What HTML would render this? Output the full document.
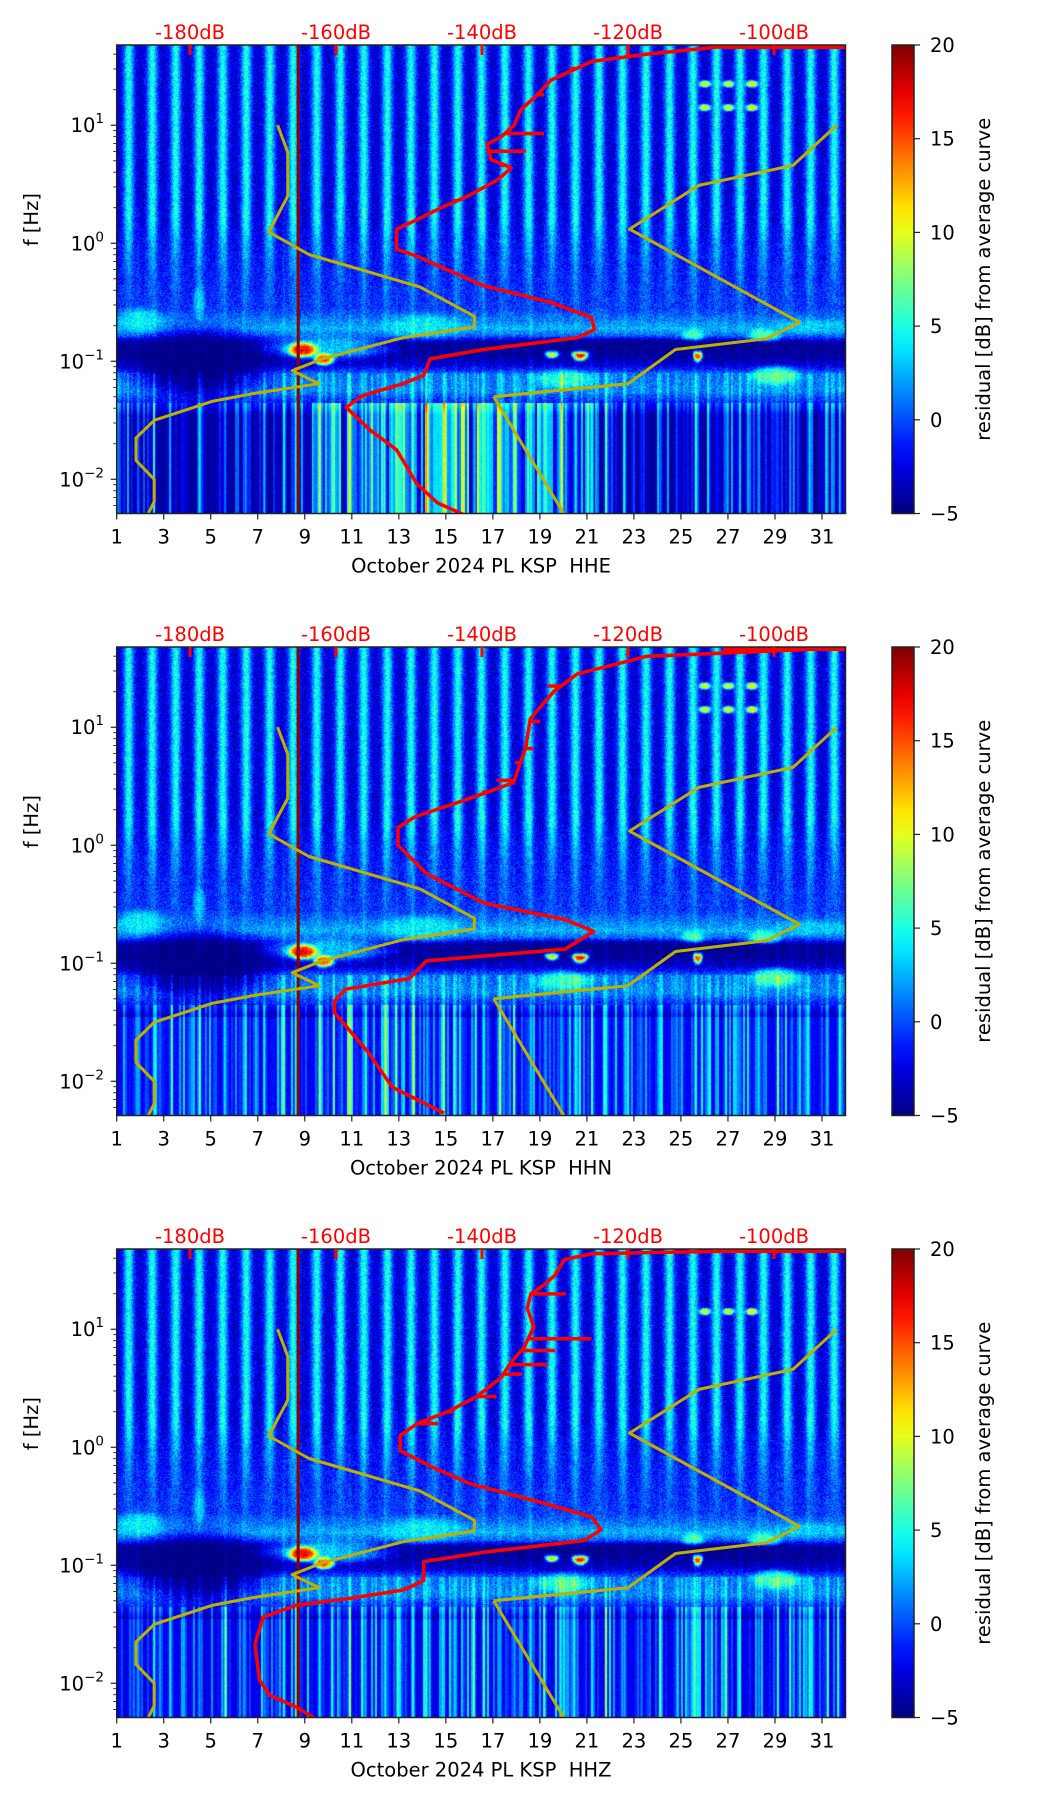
<!DOCTYPE html>
<html><head><meta charset="utf-8">
<style>
html,body{margin:0;padding:0;background:#fff;}
#wrap{position:relative;width:1052px;height:1806px;overflow:hidden;font-family:"DejaVu Sans","Liberation Sans",sans-serif;}
canvas{position:absolute;}
svg{position:absolute;left:0;top:0;}
</style></head>
<body>
<div id="wrap">
<svg id="ov" width="1052" height="1806"></svg>
</div>
<script>
// ---------- data ----------
const panelNames = ["HHE","HHN","HHZ"];
const dayTicks = [1,3,5,7,9,11,13,15,17,19,21,23,25,27,29,31];
const dbTicks = [-180,-160,-140,-120,-100];
const cbTicks = [20,15,10,5,0,-5];
const yDecades = [1,0,-1,-2];
const yDecadeLabels = ["1","0","\u22121","\u22122"];
// NLNM (low noise model), dB vs log10 f
const nlnmDb = [-168,-166.6,-166.6,-169.2,-163.7,-148.5,-141,-141.1,-150.8,-161.9,-166,-162.3,-171,-177,-184.9,-187.4,-187.4,-184.9,-184.9,-185.8];
const nlnmLf = [1,0.77,0.40,0.095,-0.095,-0.37,-0.62,-0.71,-0.80,-0.98,-1.08,-1.19,-1.27,-1.34,-1.5,-1.65,-1.84,-2.0,-2.19,-2.3];
// NHNM (high noise model)
const nhnmDb = [-91.4,-97.4,-110.3,-119.8,-96.5,-101.1,-113.5,-120,-138.4,-128.7];
const nhnmLf = [1,0.66,0.49,0.12,-0.67,-0.81,-0.90,-1.19,-1.30,-2.3];
// average PSD curves per channel
const psdHHEdb = [-90,-106.7,-117.7,-125,-127.8,-130.6,-132.4,-134.7,-135.6,-137.4,-139.3,-138.8,-136,-137.8,-141.6,-145.3,-148.9,-151.7,-151.7,-148.9,-145.3,-139.8,-130.6,-125,-124.6,-126.9,-139.8,-147.1,-148,-150.8,-156.3,-158.6,-155.4,-151.7,-148.9,-146.1,-142.5];
const psdHHElf = [1.68,1.67,1.60,1.54,1.46,1.38,1.26,1.13,1.0,0.9,0.84,0.71,0.64,0.54,0.41,0.31,0.2,0.12,-0.05,-0.11,-0.21,-0.36,-0.5,-0.63,-0.73,-0.8,-0.9,-0.98,-1.12,-1.19,-1.29,-1.39,-1.58,-1.75,-2.04,-2.2,-2.3];
const psdHHNdb = [-90,-95.4,-117.5,-127,-130.2,-133.4,-134,-135.7,-139.7,-144.4,-149.2,-151.5,-151.5,-147.6,-139.7,-128.6,-124.7,-128.6,-147.6,-150,-158.7,-160.2,-160.2,-155.5,-152.3,-145.2];
const psdHHNlf = [1.68,1.66,1.6,1.45,1.3,1.07,0.83,0.53,0.44,0.34,0.24,0.15,0,-0.24,-0.49,-0.63,-0.73,-0.88,-0.98,-1.13,-1.22,-1.32,-1.42,-1.76,-2.05,-2.27];
const psdHHZdb = [-90,-125,-128.7,-130,-131.4,-133.3,-133.8,-132.9,-134.2,-136,-137.4,-140.7,-144.4,-148.9,-151.2,-151.2,-147.1,-141.6,-132.4,-125,-123.7,-126,-139.8,-148,-148,-150.8,-158.1,-165.5,-170,-171.1,-170.5,-169.1,-165.5,-162.8];
const psdHHZlf = [1.68,1.64,1.59,1.46,1.38,1.3,1.18,1.02,0.85,0.72,0.59,0.43,0.31,0.2,0.1,-0.03,-0.16,-0.31,-0.46,-0.59,-0.7,-0.79,-0.89,-0.97,-1.13,-1.21,-1.28,-1.34,-1.44,-1.67,-1.97,-2.1,-2.2,-2.3];
// spikes (jagged excursions) of PSD curves
const spikeLf = [[1.48,1.26,0.93,0.78,0.66,0.47,0.36],[1.35,1.05,0.82,0.70,0.55,0.45],[1.30,0.92,0.82,0.70,0.62,0.43,0.30,0.2]];
const spikeDb = [[-128,-131.5,-131.5,-134,-137.5,-140,-144],[-131,-132,-133,-135.5,-138,-140],[-128.5,-125,-130,-131,-134.5,-138,-144,-146]];
// spectrogram structure: frequency band profile (log10 f) and values [dB residual]
const bandLf = [1.7,0.2,0.0,-0.3,-0.55,-0.65,-0.72,-0.78,-0.84,-0.95,-1.03,-1.1,-1.25,-1.32,-1.45,-2.3];
const bandBase = [-3,-3,-2.2,-1.5,-0.8,1,2.5,0.5,-4.2,-4.5,-3,0.5,1,-1,-4.2,-4.2];
const bandStripe = [8,8,5,2.5,1,0.5,0,0,0,0,0,0,0,0,0,0];
const bottomBase = [-4.3,-2.2,-2.6];
const streakDays = [1.9,2.6,3.3,4.5,5.6,6.4,7.3,8.1,8.6,9.6,10.2,10.9,11.5,12.4,12.9,13.6,14.2,14.9,15.4,16.2,16.6,17.3,17.9,18.6,19.2,19.9,20.5,21.2,21.8,22.6,23.3,24.1,24.8,25.6,26.2,26.9,27.5,28.3,29.1,29.7,30.4,31.2,31.7];
const streakVal = [6,4,3,5,7,6,4,8,5,6,4,7,5,8,6,9,6,5,7,4,9,6,5,7,4,6,5,4,6,5,4,6,5,7,4,5,4,6,5,4,6,5,4];
// panel-1 bottom: brighter streak region days 9.5 - 21
const boostStart = 9.3, boostEnd = 21.3, boostGain = [6,0,0];
// patches: day, log f, radius days, radius logf, value, panel mask
const patchDay = [4.5,10,2,14,25.5,28.5,29,20,8.9,9.8,20.7,19.5,25.7,4.5,26,27,28,26,27,28,22.5,30.5];
const patchLf = [-1.02,-0.88,-0.65,-0.7,-0.78,-0.78,-1.12,-1.15,-0.9,-0.98,-0.92,-0.92,-0.93,-0.5,1.35,1.35,1.35,1.15,1.15,1.15,-0.87,-0.7];
const patchRd = [2.9,2.6,1,1.6,0.5,0.7,1,1.2,0.6,0.4,0.35,0.3,0.2,0.25,0.25,0.25,0.25,0.25,0.25,0.25,9,1.5];
const patchRl = [0.3,0.1,0.1,0.1,0.06,0.06,0.08,0.08,0.06,0.05,0.07,0.05,0.07,0.15,0.03,0.03,0.03,0.03,0.03,0.03,0.06,0.06];
const patchVal = [-5.5,3,4,4,6,6,6,5,17,15,19,14,16,3,10,10,11,10,10,11,-5,3];
const patchMask = [7,7,7,7,7,7,7,7,7,7,7,7,7,7,3,3,3,7,7,7,7,7];
const verticalDay = 8.72;

// ---------- geometry ----------
const PL = 116.7, PR = 845.5, PH = 468.5;
const tops = [45, 647, 1249];
const LFTOP = 1.68, LFBOT = -2.29;
const CBL = 892, CBR = 914;
function xDay(d){ return PL + (d-1)*(PR-PL)/31; }
function yLf(lf, T){ return T + (LFTOP-lf)/(LFTOP-LFBOT)*PH; }
function xDb(db){ return 190 + (db+180)*7.3; }
function yCb(v, T){ return T + (20-v)/25*PH; }

function jet(t){
  t = Math.max(0,Math.min(1,t));
  const c = x=>Math.max(0,Math.min(1,x));
  let r=c(1.5-Math.abs(4*t-3)), g=c(1.5-Math.abs(4*t-2)), b=c(1.5-Math.abs(4*t-1));
  return [r*255|0,g*255|0,b*255|0];
}
function interp(xs, ys, x){
  if (x>=xs[0]) return ys[0];
  for (let i=1;i<xs.length;i++){
    if (x>=xs[i]){ const f=(x-xs[i])/(xs[i-1]-xs[i]); return ys[i]+(ys[i-1]-ys[i])*f; }
  }
  return ys[ys.length-1];
}
function hash(a,b){ const s=Math.sin(a*12.9898+b*78.233)*43758.5453; return s-Math.floor(s); }

const NS = "http://www.w3.org/2000/svg";
const svg = document.getElementById('ov');
function el(tag, attrs, parent){
  const e = document.createElementNS(NS, tag);
  for (const k in attrs) e.setAttribute(k, attrs[k]);
  (parent||svg).appendChild(e); return e;
}
const wrap = document.getElementById('wrap');

const psdDb = [psdHHEdb, psdHHNdb, psdHHZdb];
const psdLf = [psdHHElf, psdHHNlf, psdHHZlf];

tops.forEach((T, p) => {
  const W = Math.round(PR-PL), H = Math.round(PH);
  const cv = document.createElement('canvas');
  
  
  cv.width = W; cv.height = H;
  cv.style.left = PL+'px'; cv.style.top = T+'px';
  wrap.insertBefore(cv, svg);
  const ctx = cv.getContext('2d');
  const img = ctx.createImageData(W,H);
  const rowBase=[], rowStripe=[];
  for (let j=0;j<H;j++){
    const lf = LFTOP - (j+0.5)/H*(LFTOP-LFBOT);
    let b = interp(bandLf, bandBase, lf);
    if (lf < -1.45) b = bottomBase[p];
    rowBase.push(b); rowStripe.push(interp(bandLf, bandStripe, lf));
  }
  for (let i=0;i<W;i++){
    const day = 1 + (i+0.5)/W*31;
    const fr = day - Math.floor(day);
    const st = Math.exp(-Math.pow((fr-0.5)/0.22,2));
    let streak = 0;
    for (let k=0;k<streakDays.length;k++){
      const dd = (day-streakDays[k])/0.07;
      if (Math.abs(dd)<3) streak = Math.max(streak, streakVal[k]*Math.exp(-dd*dd));
    }
    // column texture for streaky low-frequency region
    const colTex = Math.pow(hash(Math.floor(i/2)*0.37+p*3.1, 1.7), 3)*7;
    const inBoost = (day>boostStart && day<boostEnd) ? boostGain[p] : 0;
    const colVar = hash(Math.floor(i/4)+p*11, 9.1);
    for (let j=0;j<H;j++){
      const lf = LFTOP - (j+0.5)/H*(LFTOP-LFBOT);
      let v = rowBase[j] + rowStripe[j]*st;
      for (let k=0;k<patchDay.length;k++){
        if (!((patchMask[k]>>p)&1)) continue;
        const dd=(day-patchDay[k])/patchRd[k], dl=(lf-patchLf[k])/patchRl[k];
        const r2 = dd*dd+dl*dl;
        if (r2<6){ const w=Math.exp(-r2*r2); v = v*(1-w)+patchVal[k]*w; }
      }
      if (lf < -1.35) { v += streak*0.8 + colTex + inBoost*colVar*1.4; }
      else if (lf < -1.1) v += streak*0.4 + colTex*0.4;
      else if (lf < 0.3) v += streak*0.15;
      v += (hash(i*1.3+p*7, j*0.7)*2-1)*(lf<-1.35?0.6:1.8);
      const c = jet((v+5)/25);
      const o = (j*W+i)*4;
      img.data[o]=c[0]; img.data[o+1]=c[1]; img.data[o+2]=c[2]; img.data[o+3]=255;
    }
  }
  ctx.putImageData(img,0,0);

  const g = el('g', {});
  const clipId = 'clip'+p;
  const cp = el('clipPath',{id:clipId},g);
  el('rect',{x:PL,y:T,width:PR-PL,height:PH},cp);
  const gl = el('g',{'clip-path':'url(#'+clipId+')',},g);

  el('line',{x1:xDay(verticalDay),x2:xDay(verticalDay),y1:T,y2:T+PH,stroke:'#8b0000','stroke-width':3,},gl);

  const toPts = (dbs,lfs)=>dbs.map((d,i)=>xDb(d).toFixed(1)+','+yLf(lfs[i],T).toFixed(1)).join(' ');
  el('polyline',{points:toPts(nlnmDb,nlnmLf),fill:'none',stroke:'#bfb000','stroke-width':3,'stroke-linejoin':'round',},gl);
  el('polyline',{points:toPts(nhnmDb.slice(0,9),nhnmLf.slice(0,9)),fill:'none',stroke:'#bfb000','stroke-width':3,'stroke-linejoin':'round',},gl);
  el('polyline',{points:toPts(nhnmDb.slice(8),nhnmLf.slice(8)),fill:'none',stroke:'#bfb000','stroke-width':3,},gl);

  el('polyline',{points:toPts(psdDb[p],psdLf[p]),fill:'none',stroke:'#ff0000','stroke-width':3.5,'stroke-linejoin':'round',},gl);
  spikeLf[p].forEach((lf,k)=>{
    const base = interp(psdLf[p], psdDb[p], lf);
    el('line',{x1:xDb(base),x2:xDb(spikeDb[p][k]),y1:yLf(lf,T),y2:yLf(lf,T),stroke:'#ff0000','stroke-width':3.5,},gl);
  });
  el('line',{x1:xDb(-107),x2:PR,y1:T+2,y2:T+2,stroke:'#ff0000','stroke-width':4,},gl);

  el('rect',{x:PL,y:T,width:PR-PL,height:PH,fill:'none',stroke:'#222','stroke-width':1.5,},g);

  dayTicks.forEach(d=>{
    const x=xDay(d);
    el('line',{x1:x,x2:x,y1:T+PH,y2:T+PH+6,stroke:'#222','stroke-width':1.2},g);
    const t=el('text',{x:x,y:T+PH+30,'text-anchor':'middle','font-size':19.5,fill:'#000',},g);
    t.textContent=d;
  });
  const xl=el('text',{x:481,y:T+PH+59,'text-anchor':'middle','font-size':19.5,fill:'#000',},g);
  xl.textContent='October 2024 PL KSP\u00a0\u00a0'+panelNames[p];

  for (let dec=-3; dec<=1; dec++){
    for (let m=1;m<=9;m++){
      const lf = dec+Math.log10(m);
      if (lf<LFBOT||lf>LFTOP) continue;
      const y=yLf(lf,T);
      el('line',{x1:PL-(m===1?6:3.5),x2:PL,y1:y,y2:y,stroke:'#222','stroke-width':m===1?1.2:0.9},g);
    }
  }
  yDecades.forEach((d,k)=>{
    const y=yLf(d,T);
    const t=el('text',{x:104,y:y+7,'text-anchor':'end','font-size':19.5,fill:'#000',},g);
    const a=document.createElementNS(NS,'tspan'); a.textContent='10'; t.appendChild(a);
    const b=document.createElementNS(NS,'tspan'); b.setAttribute('dy','-9'); b.setAttribute('font-size','13.5'); b.textContent=yDecadeLabels[k]; t.appendChild(b);
  });
  const yl=el('text',{x:0,y:0,transform:'translate(38,'+(yLf(0.2,T))+') rotate(-90)','text-anchor':'middle','font-size':19.5,fill:'#000',},g);
  yl.textContent='f [Hz]';

  dbTicks.forEach(db=>{
    const x=xDb(db);
    const t=el('text',{x:x,y:T-6,'text-anchor':'middle','font-size':19.5,fill:'#ff0000',},g);
    t.textContent=db+'dB';
    el('rect',{x:x-1.5,y:T,width:3,height:10,fill:'#ff0000',},g);
  });

  const gid='cbg'+p;
  const defs=el('defs',{},g);
  const lg=el('linearGradient',{id:gid,x1:0,y1:1,x2:0,y2:0},defs);
  for (let k=0;k<=20;k++){
    const c=jet(k/20);
    el('stop',{offset:(k/20),'stop-color':'rgb('+c.join(',')+')'},lg);
  }
  el('rect',{x:CBL,y:T,width:CBR-CBL,height:PH,fill:'url(#'+gid+')',stroke:'#222','stroke-width':1.5,},g);
  cbTicks.forEach(v=>{
    const y=yCb(v,T);
    el('line',{x1:CBR,x2:CBR+6,y1:y,y2:y,stroke:'#222','stroke-width':1.2},g);
    const t=el('text',{x:CBR+16,y:y+7,'font-size':19.5,fill:'#000',},g);
    t.textContent=v<0?'\u2212'+(-v):String(v);
  });
  const cl=el('text',{x:0,y:0,transform:'translate(990,'+(T+PH/2)+') rotate(-90)','text-anchor':'middle','font-size':19.5,fill:'#000',},g);
  cl.textContent='residual [dB] from average curve';
});
</script>
</body></html>
